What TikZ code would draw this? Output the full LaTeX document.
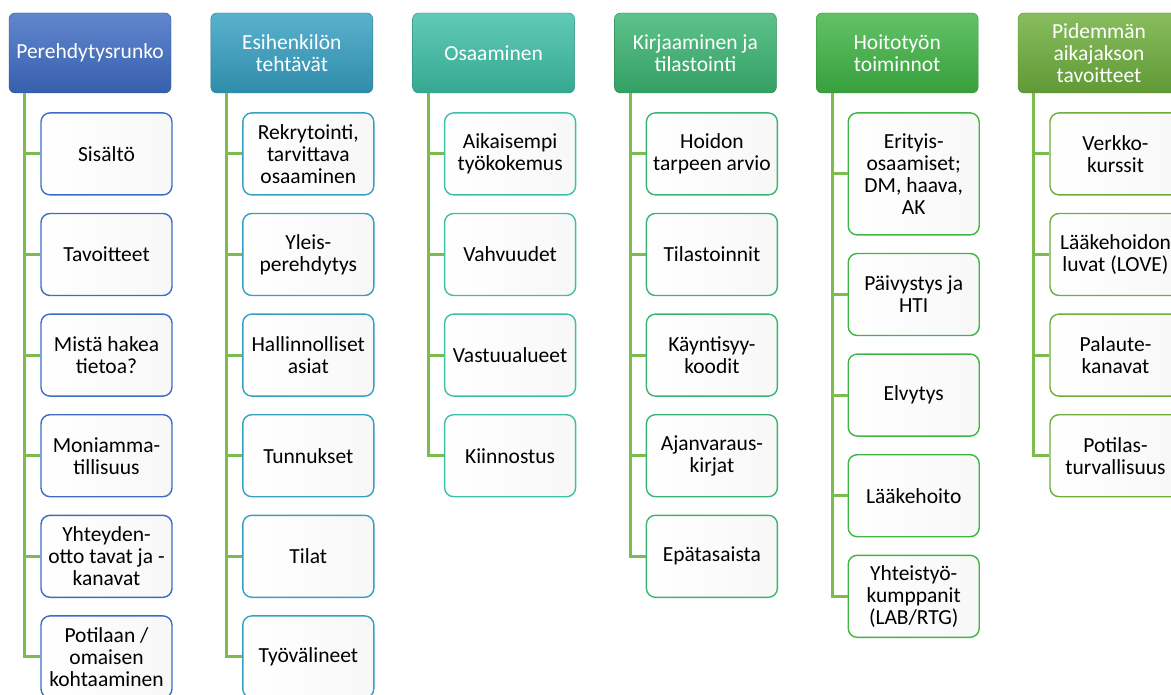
\documentclass[tikz,border=0pt]{standalone}
\usepackage{fontspec}
\setmainfont{Carlito}
\usetikzlibrary{positioning}
\definecolor{runkoblue}{HTML}{3E6CC4}
\definecolor{esihteal}{HTML}{35A0C2}
\definecolor{osaamteal}{HTML}{3DBFA6}
\definecolor{kirjgreen}{HTML}{3AB571}
\definecolor{hoitogreen}{HTML}{3FB544}
\definecolor{pitkgreen}{HTML}{6EAE3C}
\definecolor{conngreen}{HTML}{7CBB4E}

\begin{document}
\begin{tikzpicture}[
  node distance=17.2pt,
  hdr/.style={rectangle, rounded corners=6pt, minimum width=162pt, minimum height=80pt, align=center, inner sep=2pt, text=white, draw=#1!75!black, top color=#1!82!white, bottom color=#1!88!black, font=\fontsize{21.5}{22}\selectfont},
  kid/.style={rectangle, rounded corners=9pt, minimum width=131pt, minimum height=82pt, align=center, inner sep=2pt, draw=#1, line width=1.4pt, left color=white, right color=gray!6, font=\fontsize{21.5}{22}\selectfont},
  conn/.style={line width=3pt, draw=conngreen}
]
  \useasboundingbox (0pt,0pt) rectangle (1171pt,-695pt);

  % column heads
  \node (runko) [hdr=runkoblue] at (90pt,-53pt) {Perehdytysrunko};
  \node (esih) [hdr=esihteal, right=39.4pt of runko] {Esihenkilön\\tehtävät};
  \node (osaam) [hdr=osaamteal, right=39.4pt of esih] {Osaaminen};
  \node (kirj) [hdr=kirjgreen, right=39.4pt of osaam] {Kirjaaminen ja\\tilastointi};
  \node (hoito) [hdr=hoitogreen, right=39.4pt of kirj] {Hoitotyön\\toiminnot};
  \node (pitk) [hdr=pitkgreen, right=39.4pt of hoito] {Pidemmän\\aikajakson\\tavoitteet};

  % Perehdytysrunko
  \node (sisalto) [kid=runkoblue, below=19pt of runko, xshift=16.5pt] {Sisältö};
  \node (tavoit) [kid=runkoblue, below=of sisalto] {Tavoitteet};
  \node (tieto) [kid=runkoblue, below=of tavoit] {Mistä hakea\\tietoa?};
  \node (monia) [kid=runkoblue, below=of tieto] {Moniamma-\\tillisuus};
  \node (yhteys) [kid=runkoblue, below=of monia] {Yhteyden-\\otto tavat ja -\\kanavat};
  \node (omainen) [kid=runkoblue, below=of yhteys] {Potilaan /\\omaisen\\kohtaaminen};

  % Esihenkilön tehtävät
  \node (rekry) [kid=esihteal, below=19pt of esih, xshift=16.5pt] {Rekrytointi,\\tarvittava\\osaaminen};
  \node (yleis) [kid=esihteal, below=of rekry] {Yleis-\\perehdytys};
  \node (hallin) [kid=esihteal, below=of yleis] {Hallinnolliset\\asiat};
  \node (tunnus) [kid=esihteal, below=of hallin] {Tunnukset};
  \node (tilat) [kid=esihteal, below=of tunnus] {Tilat};
  \node (tyoval) [kid=esihteal, below=of tilat] {Työvälineet};

  % Osaaminen
  \node (aiemp) [kid=osaamteal, below=19pt of osaam, xshift=16.5pt] {Aikaisempi\\työkokemus};
  \node (vahvu) [kid=osaamteal, below=of aiemp] {Vahvuudet};
  \node (vastuu) [kid=osaamteal, below=of vahvu] {Vastuualueet};
  \node (kiinn) [kid=osaamteal, below=of vastuu] {Kiinnostus};

  % Kirjaaminen ja tilastointi
  \node (arvio) [kid=kirjgreen, below=19pt of kirj, xshift=16.5pt] {Hoidon\\tarpeen arvio};
  \node (tilast) [kid=kirjgreen, below=of arvio] {Tilastoinnit};
  \node (kaynti) [kid=kirjgreen, below=of tilast] {Käyntisyy-\\koodit};
  \node (ajanv) [kid=kirjgreen, below=of kaynti] {Ajanvaraus-\\kirjat};
  \node (epatas) [kid=kirjgreen, below=of ajanv] {Epätasaista};

  % Hoitotyön toiminnot
  \node (erity) [kid=hoitogreen, minimum height=122pt, below=19pt of hoito, xshift=16.5pt] {Erityis-\\osaamiset;\\DM, haava,\\AK};
  \node (paivys) [kid=hoitogreen, below=of erity] {Päivystys ja\\HTI};
  \node (elvyt) [kid=hoitogreen, below=of paivys] {Elvytys};
  \node (laake) [kid=hoitogreen, below=of elvyt] {Lääkehoito};
  \node (kumpp) [kid=hoitogreen, below=of laake] {Yhteistyö-\\kumppanit\\(LAB/RTG)};

  % Pidemmän aikajakson tavoitteet
  \node (verkko) [kid=pitkgreen, below=19pt of pitk, xshift=16.5pt] {Verkko-\\kurssit};
  \node (luvat) [kid=pitkgreen, below=of verkko] {Lääkehoidon\\luvat (LOVE)};
  \node (palaute) [kid=pitkgreen, below=of luvat] {Palaute-\\kanavat};
  \node (turva) [kid=pitkgreen, below=of palaute] {Potilas-\\turvallisuus};

  \draw [conn] ([xshift=16pt]runko.south west) |- (sisalto.west);
  \draw [conn] ([xshift=16pt]runko.south west) |- (tavoit.west);
  \draw [conn] ([xshift=16pt]runko.south west) |- (tieto.west);
  \draw [conn] ([xshift=16pt]runko.south west) |- (monia.west);
  \draw [conn] ([xshift=16pt]runko.south west) |- (yhteys.west);
  \draw [conn] ([xshift=16pt]runko.south west) |- (omainen.west);

  \draw [conn] ([xshift=16pt]esih.south west) |- (rekry.west);
  \draw [conn] ([xshift=16pt]esih.south west) |- (yleis.west);
  \draw [conn] ([xshift=16pt]esih.south west) |- (hallin.west);
  \draw [conn] ([xshift=16pt]esih.south west) |- (tunnus.west);
  \draw [conn] ([xshift=16pt]esih.south west) |- (tilat.west);
  \draw [conn] ([xshift=16pt]esih.south west) |- (tyoval.west);

  \draw [conn] ([xshift=16pt]osaam.south west) |- (aiemp.west);
  \draw [conn] ([xshift=16pt]osaam.south west) |- (vahvu.west);
  \draw [conn] ([xshift=16pt]osaam.south west) |- (vastuu.west);
  \draw [conn] ([xshift=16pt]osaam.south west) |- (kiinn.west);

  \draw [conn] ([xshift=16pt]kirj.south west) |- (arvio.west);
  \draw [conn] ([xshift=16pt]kirj.south west) |- (tilast.west);
  \draw [conn] ([xshift=16pt]kirj.south west) |- (kaynti.west);
  \draw [conn] ([xshift=16pt]kirj.south west) |- (ajanv.west);
  \draw [conn] ([xshift=16pt]kirj.south west) |- (epatas.west);

  \draw [conn] ([xshift=16pt]hoito.south west) |- (erity.west);
  \draw [conn] ([xshift=16pt]hoito.south west) |- (paivys.west);
  \draw [conn] ([xshift=16pt]hoito.south west) |- (elvyt.west);
  \draw [conn] ([xshift=16pt]hoito.south west) |- (laake.west);
  \draw [conn] ([xshift=16pt]hoito.south west) |- (kumpp.west);

  \draw [conn] ([xshift=16pt]pitk.south west) |- (verkko.west);
  \draw [conn] ([xshift=16pt]pitk.south west) |- (luvat.west);
  \draw [conn] ([xshift=16pt]pitk.south west) |- (palaute.west);
  \draw [conn] ([xshift=16pt]pitk.south west) |- (turva.west);
\end{tikzpicture}
\end{document}
